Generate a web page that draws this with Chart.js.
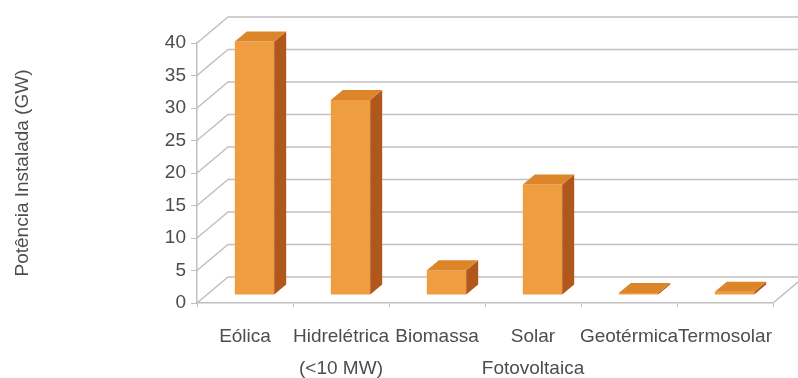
<!DOCTYPE html>
<html>
<head>
<meta charset="utf-8">
<script src="https://cdn.jsdelivr.net/npm/chart.js@4.4.0/dist/chart.umd.min.js"></script>
<style>
  html, body { margin: 0; background: #fff; }
  canvas { display: block; }
</style>
</head>
<body>
<canvas id="chart" width="798" height="378"></canvas>
<script>
// installed capacity per source
const categories = ['Eólica', ['Hidrelétrica', '(<10 MW)'], 'Biomassa', ['Solar', 'Fotovoltaica'], 'Geotérmica', 'Termosolar'];
const capacityGW = [39, 30, 3.8, 17, 0.3, 0.5];
const yMin = 0;
const yMax = 40;
const yStep = 5;

const FONT = 'Liberation Sans, Arial, sans-serif';
const TEXT = '#4d4d4d';
const GRID = '#c0c0c0';

// fake 3d: wall depth, bar offset inside the box, bar depth
const WALL = { dx: 31, dy: -26 };
const BAR_SHIFT = { dx: 9.5, dy: -8 };
const BAR_DEPTH = { dx: 12, dy: -10 };

const box3d = {
  id: 'box3d',
  beforeDatasetsDraw(chart) {
    const { ctx, chartArea: a, scales: { y } } = chart;
    ctx.save();
    ctx.strokeStyle = GRID;
    ctx.lineWidth = 1.5;
    ctx.beginPath();
    y.ticks.forEach(t => {
      const py = y.getPixelForValue(t.value);
      // side wall diagonal + back wall line
      ctx.moveTo(a.left, py);
      ctx.lineTo(a.left + WALL.dx, py + WALL.dy);
      ctx.lineTo(a.right + WALL.dx, py + WALL.dy);
    });
    // right edge of the floor
    ctx.moveTo(a.right, a.bottom);
    ctx.lineTo(a.right + WALL.dx, a.bottom + WALL.dy);
    ctx.stroke();
    ctx.restore();

    // bars sit in the middle of the box depth
    ctx.save();
    ctx.translate(BAR_SHIFT.dx, BAR_SHIFT.dy);
  },
  afterDatasetsDraw(chart) {
    const ctx = chart.ctx;
    chart.getDatasetMeta(0).data.forEach(bar => {
      const { x, y, base, width } = bar.getProps(['x', 'y', 'base', 'width'], true);
      const l = x - width / 2, r = x + width / 2;
      // right side
      ctx.fillStyle = '#b0571c';
      ctx.beginPath();
      ctx.moveTo(r, y);
      ctx.lineTo(r + BAR_DEPTH.dx, y + BAR_DEPTH.dy);
      ctx.lineTo(r + BAR_DEPTH.dx, base + BAR_DEPTH.dy);
      ctx.lineTo(r, base);
      ctx.closePath();
      ctx.fill();
      // top
      ctx.fillStyle = '#dc8529';
      ctx.beginPath();
      ctx.moveTo(l, y);
      ctx.lineTo(l + BAR_DEPTH.dx, y + BAR_DEPTH.dy);
      ctx.lineTo(r + BAR_DEPTH.dx, y + BAR_DEPTH.dy);
      ctx.lineTo(r, y);
      ctx.closePath();
      ctx.fill();
    });
    ctx.restore();
  }
};

new Chart(document.getElementById('chart'), {
  type: 'bar',
  data: {
    labels: categories,
    datasets: [{
      data: capacityGW,
      backgroundColor: '#ee9d40',
      borderWidth: 0,
      categoryPercentage: 1,
      barPercentage: 0.41,
      clip: false
    }]
  },
  options: {
    responsive: false,
    animation: false,
    events: [],
    layout: { padding: { top: 43, right: 25, bottom: 0, left: 0 } },
    plugins: { legend: { display: false }, tooltip: { enabled: false } },
    scales: {
      x: {
        afterFit(s) { s.height = 75; },
        grid: { drawOnChartArea: false, tickLength: 4, color: GRID },
        border: { color: GRID, width: 1.5 },
        ticks: {
          autoSkip: false, maxRotation: 0, padding: 14,
          color: TEXT, font: { family: FONT, size: 19, lineHeight: 1.68 }
        }
      },
      y: {
        min: yMin, max: yMax,
        afterFit(s) { s.width = 197; },
        grid: { drawOnChartArea: false, tickLength: 6, color: GRID },
        border: { color: GRID, width: 1.5 },
        ticks: { stepSize: yStep, padding: 5, color: TEXT, font: { family: FONT, size: 19 } },
        title: {
          display: true, text: 'Potência Instalada (GW)',
          color: TEXT, font: { family: FONT, size: 19 }, padding: { top: 11 }
        }
      }
    }
  },
  plugins: [box3d]
});
</script>
</body>
</html>
